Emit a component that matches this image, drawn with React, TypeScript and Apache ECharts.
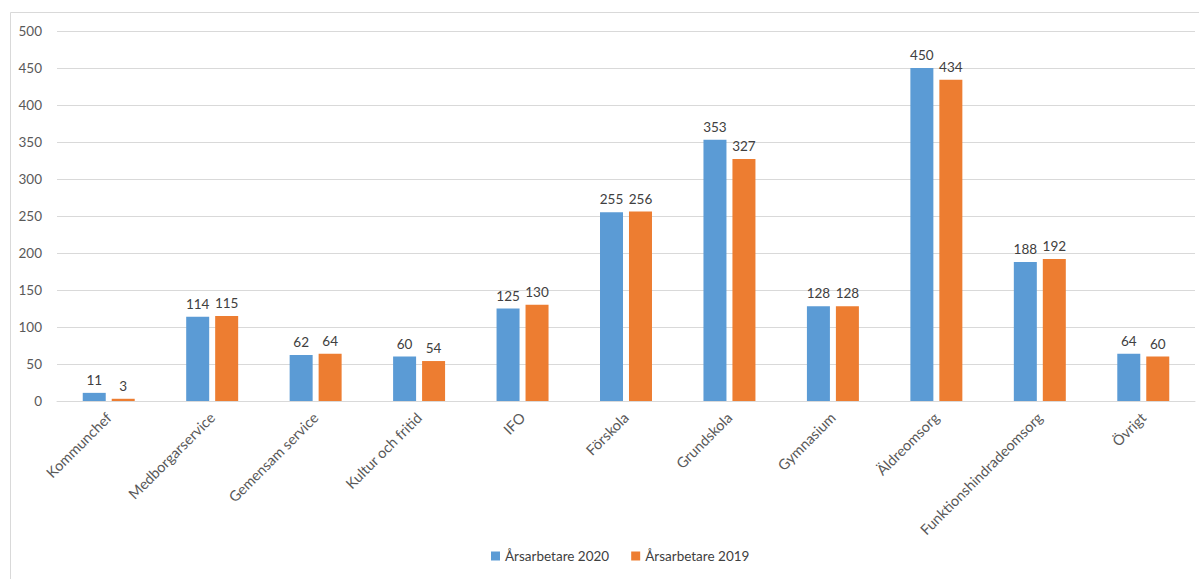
import React, { useEffect, useRef } from "react";
import * as echarts from "echarts";

const categories = [
  "Kommunchef",
  "Medborgarservice",
  "Gemensam service",
  "Kultur och fritid",
  "IFO",
  "Förskola",
  "Grundskola",
  "Gymnasium",
  "Äldreomsorg",
  "Funktionshindradeomsorg",
  "Övrigt",
];
const values2020 = [11, 114, 62, 60, 125, 255, 353, 128, 450, 188, 64];
const values2019 = [3, 115, 64, 54, 130, 256, 327, 128, 434, 192, 60];
const seriesNames = ["Årsarbetare 2020", "Årsarbetare 2019"];

const FONT = "Lato, 'Open Sans', sans-serif";

export default function App() {
  const ref = useRef<HTMLDivElement>(null);
  useEffect(() => {
    document.body.style.margin = "0";
    const chart = echarts.init(ref.current!, null, { renderer: "svg" });
    const label = {
      show: true,
      position: "top" as const,
      color: "#404040",
      fontSize: 13.5,
      fontFamily: FONT,
      distance: 6,
    };
    chart.setOption({
      animation: false,
      backgroundColor: "#ffffff",
      textStyle: { fontFamily: FONT },
      graphic: [
        {
          type: "rect",
          shape: { x: 10.5, y: 12.5, width: 1200, height: 600 },
          style: { fill: "none", stroke: "#d9d9d9", lineWidth: 1 },
          silent: true,
          z: -1,
        },
      ],
      grid: { left: 57, right: 4, top: 31, bottom: 178, containLabel: false },
      legend: {
        bottom: 11,
        left: 486,
        icon: "rect",
        itemWidth: 9,
        itemHeight: 9,
        itemGap: 22,
        textStyle: { color: "#404040", fontSize: 13.5, fontFamily: FONT },
        data: seriesNames,
      },
      xAxis: {
        type: "category",
        data: categories,
        axisLine: { show: true, lineStyle: { color: "#d9d9d9", width: 1 } },
        axisTick: { show: false },
        axisLabel: {
          rotate: 45,
          interval: 0,
          color: "#595959",
          fontSize: 14.5,
          fontFamily: FONT,
          margin: 14,
        },
      },
      yAxis: {
        type: "value",
        min: 0,
        max: 500,
        interval: 50,
        axisLine: { show: false },
        axisTick: { show: false },
        splitLine: { lineStyle: { color: "#d9d9d9", width: 1 } },
        axisLabel: {
          color: "#595959",
          fontSize: 13.5,
          fontFamily: FONT,
          margin: 15,
        },
      },
      series: [
        {
          name: seriesNames[0],
          type: "bar",
          data: values2020,
          itemStyle: { color: "#5b9bd5" },
          barWidth: 23,
          barGap: "26%",
          label,
        },
        {
          name: seriesNames[1],
          type: "bar",
          data: values2019,
          itemStyle: { color: "#ed7d31" },
          barWidth: 23,
          barGap: "26%",
          label,
        },
      ],
    });
    return () => chart.dispose();
  }, []);
  return (
    <div
      ref={ref}
      style={{ position: "absolute", left: 0, top: 0, width: 1199, height: 579 }}
    />
  );
}
